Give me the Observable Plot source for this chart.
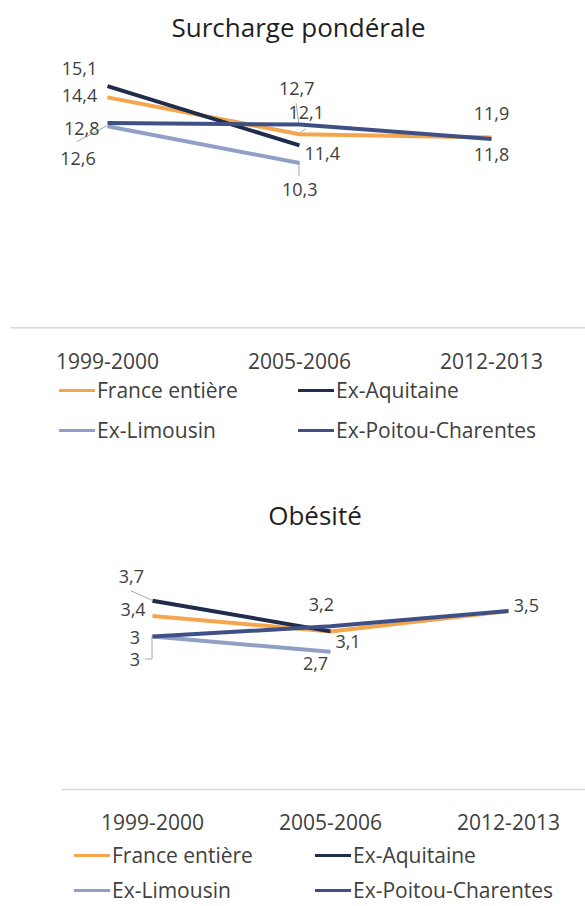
<!DOCTYPE html>
<html>
<head>
<meta charset="utf-8">
<script src="https://cdn.jsdelivr.net/npm/d3@7"></script>
<script src="https://cdn.jsdelivr.net/npm/@observablehq/plot@0.6"></script>
<style>
  body { margin: 0; background: #fff; }
  #root { position: relative; width: 585px; height: 906px; overflow: hidden; font-family: "Open Sans", sans-serif; }
  .title { position: absolute; font-size: 26px; line-height: 26px; color: #1f1f1f; white-space: nowrap; transform: translateX(-50%); }
  .plot { position: absolute; left: 0; }
  .legend-item { position: absolute; display: flex; align-items: center; font-size: 21px; line-height: 21px; color: #404040; white-space: nowrap; }
  .swatch { display: inline-block; width: 36px; height: 3px; margin-right: 2px; }
</style>
</head>
<body>
<div id="root"></div>
<script>
// ---------- data ----------
const categories = ["1999-2000", "2005-2006", "2012-2013"];
const seriesNames = ["France entière", "Ex-Aquitaine", "Ex-Limousin", "Ex-Poitou-Charentes"];
const seriesColors = ["#F5A54C", "#1F2C4C", "#909FC5", "#3E5085"];

const surchargeFrance    = [14.4, 12.1, 11.9];
const surchargeAquitaine = [15.1, 11.4, null];
const surchargeLimousin  = [12.6, 10.3, null];
const surchargePoitou    = [12.8, 12.7, 11.8];

const obesiteFrance    = [3.4, 3.1, 3.5];
const obesiteAquitaine = [3.7, 3.1, null];
const obesiteLimousin  = [3.0, 2.7, null];
const obesitePoitou    = [3.0, 3.2, 3.5];

// ---------- label placement (layout only) ----------
const surchargeLabelPlacement = [
  {s: 1, c: 0, dx: -28, dy: -16.5},
  {s: 0, c: 0, dx: -28, dy: -1.4},
  {s: 3, c: 0, dx: -25.7, dy: 6},
  {s: 2, c: 0, dx: -29.5, dy: 32.6},
  {s: 3, c: 1, dx: -2.7, dy: -35.8},
  {s: 0, c: 1, dx: 6.8, dy: -20.7},
  {s: 1, c: 1, dx: 22.7, dy: 8.8},
  {s: 2, c: 1, dx: 0.2, dy: 27.5},
  {s: 0, c: 2, dx: 0, dy: -23.2},
  {s: 3, c: 2, dx: 0, dy: 16}
];
const surchargeLeaders = [
  {s: 2, c: 0, path: [[-30, 16]]},
  {s: 3, c: 1, path: [[-3, -21]]},
  {s: 0, c: 1, path: [[7, -5]]},
  {s: 2, c: 1, path: [[0, 13.5]]}
];
// overlapping labels (Ex-Aquitaine 3,1 and Ex-Poitou-Charentes 3,5) coincide with France's
const obesiteLabelPlacement = [
  {s: 1, c: 0, dx: -21.2, dy: -24},
  {s: 0, c: 0, dx: -19.5, dy: -6},
  {s: 3, c: 0, dx: -17.7, dy: 1.5},
  {s: 2, c: 0, dx: -17.7, dy: 23.7},
  {s: 3, c: 1, dx: -9.2, dy: -21.3},
  {s: 0, c: 1, dx: 17.5, dy: 10.8},
  {s: 2, c: 1, dx: -15, dy: 12.4},
  {s: 0, c: 2, dx: 17.8, dy: -4.7}
];
const obesiteLeaders = [
  {s: 1, c: 0, path: [[-21.3, -9.6]]},
  {s: 2, c: 0, path: [[0, 23], [-7, 23]]}
];

const fmt = v => String(v).replace(".", ",");

function leaderMark(leaders, values) {
  return (index, scales) => {
    const g = d3.create("svg:g")
      .attr("fill", "none").attr("stroke", "#A6A6A6").attr("stroke-width", 1);
    for (const l of leaders) {
      const px = scales.x(categories[l.c]);
      const py = scales.y(values[l.s][l.c]);
      const pts = [[px, py], ...l.path.map(([dx, dy]) => [px + dx, py + dy])];
      g.append("path").attr("d", "M" + pts.map(p => p.join(",")).join("L"));
    }
    return g.node();
  };
}

function makeChart(values, opts) {
  const marks = [Plot.ruleY([0], {stroke: "#D9D9D9", strokeWidth: 1.5})];
  marks.push(leaderMark(opts.leaders, values));
  values.forEach((vals, si) => {
    const rows = categories.map((c, i) => ({c, v: vals[i]})).filter(d => d.v != null);
    marks.push(Plot.line(rows, {
      x: "c", y: "v", stroke: seriesColors[si], strokeWidth: 4,
      strokeLinecap: "butt", strokeLinejoin: "round"
    }));
  });
  for (const p of opts.labels) {
    marks.push(Plot.text([p], {
      x: d => categories[d.c],
      y: d => values[d.s][d.c],
      text: d => fmt(values[d.s][d.c]),
      dx: p.dx, dy: p.dy,
      fontSize: 18, fill: "#404040"
    }));
  }
  marks.push(Plot.axisX({tickSize: 0, tickPadding: 26, fontSize: 21, label: null}));
  return Plot.plot({
    width: 585,
    height: opts.height,
    marginLeft: opts.marginLeft,
    marginRight: 0,
    marginTop: 0,
    marginBottom: opts.marginBottom,
    style: {fontFamily: "Open Sans", color: "#404040", background: "transparent", overflow: "visible"},
    x: {type: "point", domain: categories, range: opts.xRange, padding: 0},
    y: {domain: opts.yDomain, range: opts.yRange, axis: null},
    marks
  });
}

const root = document.getElementById("root");

function addTitle(text, cx, top) {
  const d = document.createElement("div");
  d.className = "title";
  d.textContent = text;
  d.style.left = cx + "px";
  d.style.top = top + "px";
  root.appendChild(d);
}
function addPlot(svg, top) {
  svg.classList.add("plot");
  svg.style.top = top + "px";
  root.appendChild(svg);
}
function addLegend(cols, rows) {
  seriesNames.forEach((name, i) => {
    const item = document.createElement("div");
    item.className = "legend-item";
    item.style.left = cols[i % 2] + "px";
    item.style.top = rows[Math.floor(i / 2)] + "px";
    const sw = document.createElement("span");
    sw.className = "swatch";
    sw.style.background = seriesColors[i];
    item.appendChild(sw);
    item.appendChild(document.createTextNode(name));
    root.appendChild(item);
  });
}

// ---------- Chart 1: Surcharge pondérale ----------
addTitle("Surcharge pondérale", 298.5, 14);
const surchargeValues = [surchargeFrance, surchargeAquitaine, surchargeLimousin, surchargePoitou];
addPlot(makeChart(surchargeValues, {
  height: 330, marginLeft: 10, marginBottom: 330 - 277.3,
  xRange: [107, 491], yDomain: [0, 16], yRange: [277.3, 277.3 - 256],
  labels: surchargeLabelPlacement, leaders: surchargeLeaders
}), 50);
addLegend([59, 298], [380, 419.5]);

// ---------- Chart 2: Obésité ----------
addTitle("Obésité", 315, 502);
const obesiteValues = [obesiteFrance, obesiteAquitaine, obesiteLimousin, obesitePoitou];
addPlot(makeChart(obesiteValues, {
  height: 300, marginLeft: 62, marginBottom: 51,
  xRange: [152, 508], yDomain: [0, 4], yRange: [249, 249 - 204],
  labels: obesiteLabelPlacement, leaders: obesiteLeaders
}), 540);
addLegend([74, 315], [845, 880]);
</script>
</body>
</html>
